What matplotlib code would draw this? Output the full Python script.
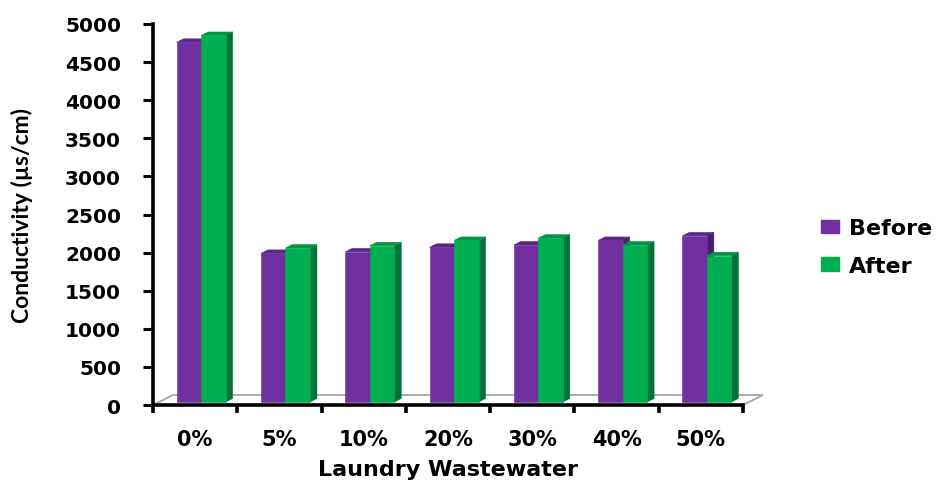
import matplotlib
matplotlib.use("Agg")
import matplotlib.pyplot as plt
from matplotlib.patches import Polygon, Patch

# Conductivity before/after treatment for each laundry wastewater ratio
categories = ["0%", "5%", "10%", "20%", "30%", "40%", "50%"]
before = [4720, 1950, 1970, 2030, 2060, 2120, 2180]
after = [4810, 2020, 2050, 2120, 2150, 2060, 1920]
yticks = list(range(0, 5001, 500))
series_names = ["Before", "After"]

# Excel-like 3D column colours: front, top, side
purple = ("#7030A0", "#5C2688", "#4A1D6E")
green = ("#00B050", "#009444", "#00733A")

W, H = 944, 481
fig = plt.figure(figsize=(W / 100, H / 100), dpi=100)
ax_l, ax_r, ax_b, ax_t = 153, 743, 406, 25
ax = fig.add_axes([ax_l / W, 1 - ax_b / H, (ax_r - ax_l) / W, (ax_b - ax_t) / H])

n = len(categories)
ax.set_xlim(-0.5, n - 0.5)
ax.set_ylim(0, 5000)
xpp = n / (ax_r - ax_l)          # data units per pixel, x
ypp = 5000 / (ax_b - ax_t)       # data units per pixel, y

# floor of the 3D plot area
fdx, fdy = 20 * xpp, 10 * ypp
floor = Polygon([(-0.5, 0), (n - 0.5, 0), (n - 0.5 + fdx, fdy), (-0.5 + fdx, fdy)],
                closed=True, facecolor="white", edgecolor="#a6a6a6", lw=1.3,
                clip_on=False, zorder=1)
ax.add_patch(floor)

# column geometry
w = 24.5 * xpp
off_x, off_y = 6 * xpp, 3 * ypp
bx, by = 7 * xpp, 3.5 * ypp


def column(x0, v, cols):
    face, top, side = cols
    b = off_y
    front = [(x0, b), (x0 + w, b), (x0 + w, b + v), (x0, b + v)]
    topp = [(x0, b + v), (x0 + w, b + v), (x0 + w + bx, b + v + by), (x0 + bx, b + v + by)]
    sidep = [(x0 + w, b), (x0 + w + bx, b + by), (x0 + w + bx, b + v + by), (x0 + w, b + v)]
    for pts, c in ((sidep, side), (topp, top), (front, face)):
        ax.add_patch(Polygon(pts, closed=True, facecolor=c, edgecolor=c, lw=0.4,
                             clip_on=False, zorder=3))


for i in range(n):
    column(i - w + off_x, before[i], purple)
    column(i + off_x, after[i], green)

# axes styling
for s in ("top", "right"):
    ax.spines[s].set_visible(False)
for s in ("left", "bottom"):
    ax.spines[s].set_linewidth(2.6)
    ax.spines[s].set_color("black")
    ax.spines[s].set_zorder(2)

ax.set_yticks(yticks)
ax.set_yticklabels([str(t) for t in yticks])
ax.tick_params(axis="y", direction="out", length=7, width=2.2, pad=16,
               labelsize=14.5)
for lab in ax.get_yticklabels():
    lab.set_fontweight("bold")

ax.set_xticks(range(n))
ax.set_xticklabels(categories)
ax.set_xticks([i - 0.5 for i in range(n + 1)], minor=True)
ax.tick_params(axis="x", which="major", length=0, pad=17, labelsize=15)
ax.tick_params(axis="x", which="minor", direction="out", length=6, width=2.6)
for lab in ax.get_xticklabels():
    lab.set_fontweight("bold")

ax.set_xlabel("Laundry Wastewater", fontsize=16, fontweight="bold")
ax.set_ylabel("Conductivity (µs/cm)", fontsize=16.5, fontweight="bold",
              family=["Lato", "DejaVu Sans"])
ax.yaxis.set_label_coords((33 - ax_l) / (ax_r - ax_l), 0.5)
ax.xaxis.set_label_coords(0.5, -(460 - ax_b) / (ax_b - ax_t))

handles = [Patch(facecolor=purple[0], edgecolor=purple[0]),
           Patch(facecolor=green[0], edgecolor=green[0])]
leg = fig.legend(handles, series_names, loc="center left",
                 bbox_to_anchor=(821 / W, 1 - 248 / H), frameon=False,
                 prop={"size": 16, "weight": "bold"}, handlelength=0.82,
                 handleheight=0.55, handletextpad=0.45, labelspacing=0.8,
                 borderpad=0, borderaxespad=0)

fig.savefig("out.png", dpi=100)
